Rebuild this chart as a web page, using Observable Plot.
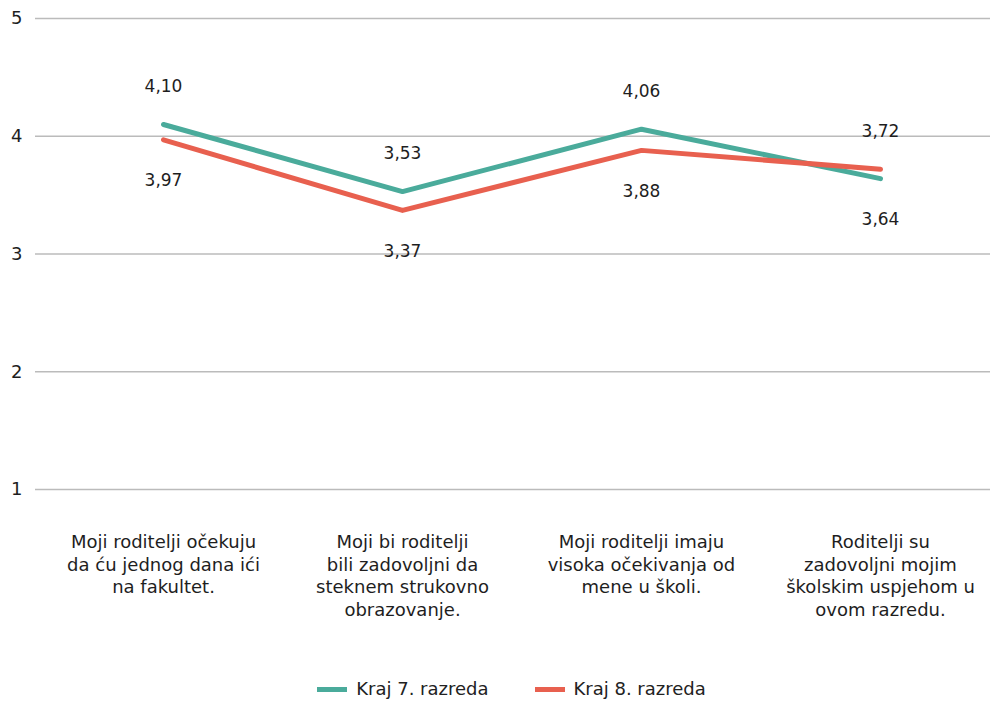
<!DOCTYPE html>
<html>
<head>
<meta charset="utf-8">
<script src="https://cdn.jsdelivr.net/npm/d3@7"></script>
<script src="https://cdn.jsdelivr.net/npm/@observablehq/plot@0.6"></script>
<style>
  html, body { margin: 0; padding: 0; background: #fff; }
  body { width: 990px; font-family: "DejaVu Sans", sans-serif; color: #222; }
  #legend { display: flex; justify-content: center; align-items: center; gap: 46px; margin-top: 17px; font-size: 18px; padding-left: 33px; line-height: 24px; }
  .item { display: flex; align-items: center; gap: 9px; }
  .sw { width: 30px; height: 5px; display: inline-block; }
</style>
</head>
<body>
<div id="chart"></div>
<div id="legend"></div>
<script>
const categories = [
  "Moji roditelji očekuju\nda ću jednog dana ići\nna fakultet.",
  "Moji bi roditelji\nbili zadovoljni da\nsteknem strukovno\nobrazovanje.",
  "Moji roditelji imaju\nvisoka očekivanja od\nmene u školi.",
  "Roditelji su\nzadovoljni mojim\nškolskim uspjehom u\novom razredu."
];
const seriesNames = ["Kraj 7. razreda", "Kraj 8. razreda"];
const grade7 = [4.10, 3.53, 4.06, 3.64];
const grade8 = [3.97, 3.37, 3.88, 3.72];
const colors = ["#4aab9b", "#e8604f"];
const yTicks = [1, 2, 3, 4, 5];

const data = [];
categories.forEach((c, i) => {
  data.push({cat: c, series: seriesNames[0], value: grade7[i], other: grade8[i]});
  data.push({cat: c, series: seriesNames[1], value: grade8[i], other: grade7[i]});
});
const fmt = v => d3.format(".2f")(v).replace(".", ",");

const chart = Plot.plot({
  width: 990,
  height: 660,
  marginLeft: 35,
  marginRight: 0,
  marginTop: 18,
  marginBottom: 171,
  style: {fontFamily: "DejaVu Sans, sans-serif", fontSize: "18px", color: "#1e1e1e"},
  x: {type: "point", domain: categories, range: [162, 881], padding: 0},
  y: {domain: [1, 5]},
  color: {domain: seriesNames, range: colors},
  marks: [
    Plot.ruleY(yTicks, {stroke: "#bbbbbb", strokeWidth: 1.3}),
    Plot.axisY({ticks: yTicks, tickFormat: "d", tickSize: 0, tickPadding: 13, fontSize: 18, label: null}),
    Plot.axisX({tickSize: 0, tickPadding: 42, lineAnchor: "top", lineHeight: 1.27, fontSize: 18, label: null}),
    Plot.line(data, {x: "cat", y: "value", z: "series", stroke: "series", strokeWidth: 5, strokeLinecap: "round", strokeLinejoin: "round"}),
    Plot.text(data.filter(d => d.value >= d.other), {x: "cat", y: "value", text: d => fmt(d.value), dy: -38, fontSize: 17, fill: "#1e1e1e"}),
    Plot.text(data.filter(d => d.value < d.other), {x: "cat", y: "value", text: d => fmt(d.value), dy: 41, fontSize: 17, fill: "#1e1e1e"})
  ]
});
document.getElementById("chart").appendChild(chart);

const legend = document.getElementById("legend");
seriesNames.forEach((s, i) => {
  const it = document.createElement("div");
  it.className = "item";
  const sw = document.createElement("span");
  sw.className = "sw";
  sw.style.background = colors[i];
  const t = document.createElement("span");
  t.textContent = s;
  it.appendChild(sw); it.appendChild(t);
  legend.appendChild(it);
});
</script>
</body>
</html>
